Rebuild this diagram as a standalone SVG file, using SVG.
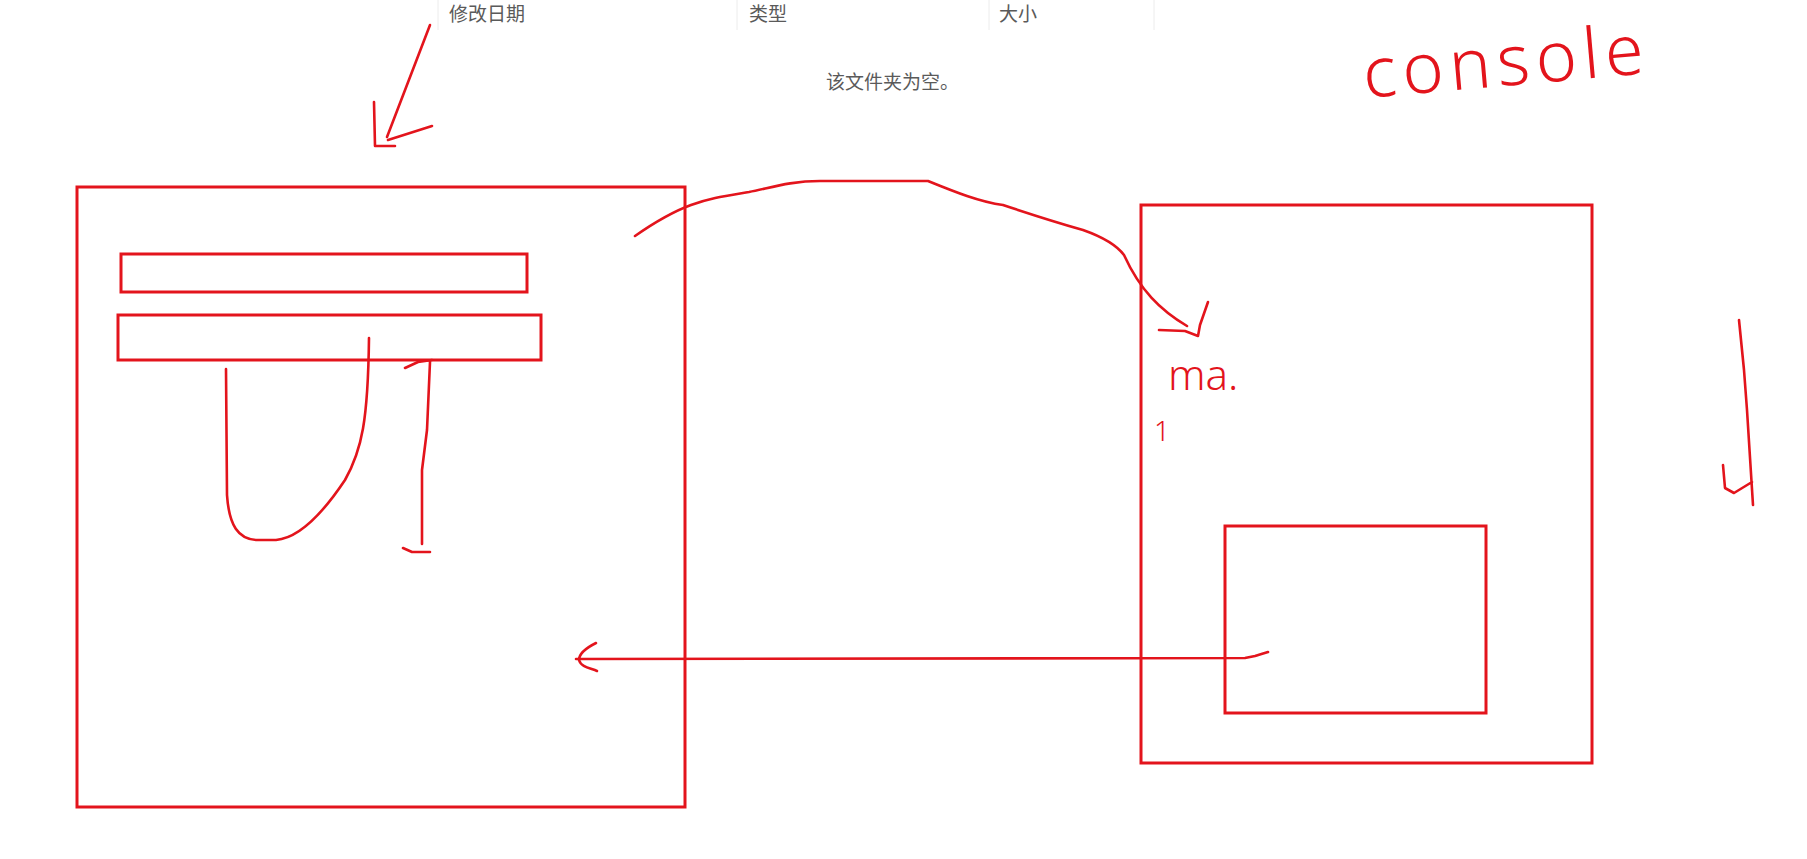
<svg xmlns="http://www.w3.org/2000/svg" width="1807" height="859" viewBox="0 0 1807 859">
<style>
.box{fill:none;stroke:#e3141c;stroke-width:3}
.ink{fill:none;stroke:#e3141c;stroke-width:2.6;stroke-linecap:round;stroke-linejoin:round}
.hdr{font-family:"Noto Sans CJK SC","Noto Sans",sans-serif;font-size:19px;fill:#5a5a5a}
.sep{stroke:#ececec;stroke-width:1}
.hand{font-family:"Noto Sans","Liberation Sans",sans-serif;fill:#e3141c;font-weight:300}
</style>
<rect width="1807" height="859" fill="#ffffff"/>
<g id="header">
  <line class="sep" x1="438" y1="0" x2="438" y2="30"/>
  <line class="sep" x1="737" y1="0" x2="737" y2="30"/>
  <line class="sep" x1="989" y1="0" x2="989" y2="30"/>
  <line class="sep" x1="1154" y1="0" x2="1154" y2="30"/>
  <text class="hdr" x="449" y="21">修改日期</text>
  <text class="hdr" x="749" y="21">类型</text>
  <text class="hdr" x="999" y="21">大小</text>
  <text class="hdr" x="826" y="89" fill="#6a6a6a">该文件夹为空。</text>
</g>
<g id="page">
  <rect class="box" x="77" y="187" width="608" height="620"/>
</g>
<g id="bar1">
  <rect class="box" x="121" y="254" width="406" height="38"/>
</g>
<g id="bar2">
  <rect class="box" x="118" y="315" width="423" height="45"/>
</g>
<g id="console-window">
  <rect class="box" x="1141" y="205" width="451" height="558"/>
</g>
<g id="inner-box">
  <rect class="box" x="1225" y="526" width="261" height="187"/>
</g>
<g id="console-label">
  <text class="hand" x="1365" y="98" font-size="70" letter-spacing="6" transform="rotate(-5 1365 98)">console</text>
</g>
<g id="ma-label">
  <text class="hand" x="1168" y="390" font-size="42">ma.</text>
  <text class="hand" x="1154" y="441" font-size="28">1</text>
</g>
<g id="doodle-right">
  <path class="ink" d="M1739,320 L1744,370 L1747,410 L1753,505 M1723,465 L1725,488 L1734,493 L1752,482"/>
</g>
<g id="connectors">
  <path class="ink" d="M430,25 L387,137 M374,102 L375,146 L395,146 M388,140 L432,126"/>
  <path class="ink" d="M226,369 L227,495 C229,525 238,540 258,540 L276,540 C300,538 325,510 345,480 C362,450 368,420 369,338"/>
  <path class="ink" d="M430,362 L427,430 L422,470 L422,544 M405,368 L418,362 L432,360 M403,548 L412,552 L430,552"/>
  <path class="ink" d="M635,236 C655,222 672,212 691,205 C710,198 725,196 749,192 C770,188 790,181 820,181 L928,181 C955,192 980,202 1003,205 C1030,214 1055,222 1083,230 C1100,236 1115,243 1124,255 C1140,290 1160,310 1187,326"/>
  <path class="ink" d="M1208,302 L1200,325 L1198,336 L1185,331 L1159,330"/>
  <path class="ink" d="M1268,652 L1255,656 L1245,658 L576,659"/>
  <path class="ink" d="M596,643 C586,648 579,653 579,660 C581,667 590,668 597,671"/>
</g>
</svg>
